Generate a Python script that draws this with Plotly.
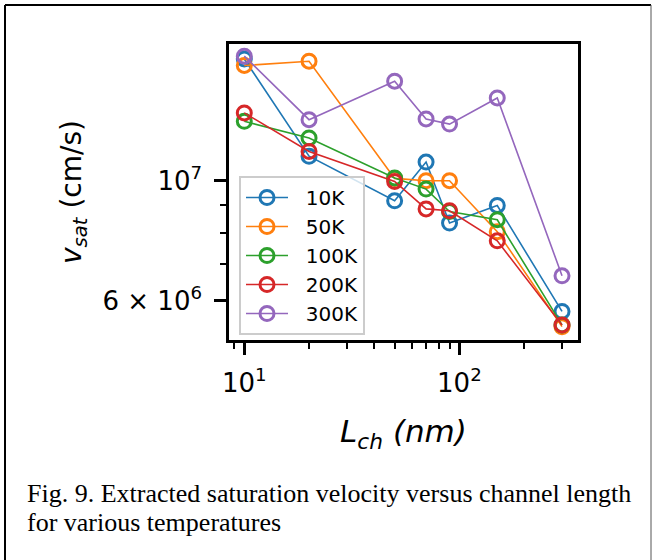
import math
import plotly.graph_objects as go

# ---- data ----
L_ch = [10, 20, 50, 70, 90, 150, 300]
v_10K = [1.68e7, 1.11e7, 9.18e6, 1.083e7, 8.35e6, 9.0e6, 5.73e6]
v_50K = [1.634e7, 1.664e7, 1.01e7, 1.0e7, 1.0e7, 8.05e6, 5.37e6]
v_100K = [1.288e7, 1.20e7, 1.012e7, 9.65e6, 8.77e6, 8.47e6, 5.41e6]
v_200K = [1.335e7, 1.133e7, 9.97e6, 8.87e6, 8.8e6, 7.74e6, 5.41e6]
v_300K = [1.70e7, 1.297e7, 1.528e7, 1.301e7, 1.273e7, 1.423e7, 6.67e6]
series_names = ["10K", "50K", "100K", "200K", "300K"]
series_values = [v_10K, v_50K, v_100K, v_200K, v_300K]
colors = ["#1f77b4", "#ff7f0e", "#2ca02c", "#d62728", "#9467bd"]

x_major = [10, 100]
x_major_text = ["10<sup>1</sup>", "10<sup>2</sup>"]
x_minor = [9, 20, 30, 40, 50, 60, 70, 80, 90, 200, 300]
y_major = [6e6, 1e7]
y_major_text = ["6 × 10<sup>6</sup>", "10<sup>7</sup>"]
y_minor = [7e6, 8e6, 9e6]

caption_1 = "Fig. 9. Extracted saturation velocity versus channel length"
caption_2 = "for various temperatures"

# ---- layout geometry ----
W, H = 656, 560
ml, mr, mt, mb = 229, 78, 44, 220
pw, ph = W - ml - mr, H - mt - mb


def px_x(px):
    return (px - ml) / pw


def px_y(py):
    return (H - mb - py) / ph


fig = go.Figure()
for name, vals, c in zip(series_names, series_values, colors):
    fig.add_trace(go.Scatter(
        x=L_ch, y=vals, name="\u00a0\u00a0" + name, mode="lines+markers",
        line=dict(color=c, width=1.6),
        marker=dict(symbol="circle-open", size=14, color=c, line=dict(width=3, color=c)),
    ))

tickfont = dict(family="DejaVu Sans", size=26, color="black")

fig.update_layout(
    width=W, height=H,
    margin=dict(l=ml, r=mr, t=mt, b=mb),
    paper_bgcolor="white", plot_bgcolor="white",
    showlegend=True,
    legend=dict(
        x=px_x(239), y=px_y(176), xanchor="left", yanchor="top",
        bgcolor="rgba(255,255,255,0.8)", bordercolor="#cccccc", borderwidth=2,
        font=dict(family="DejaVu Sans", size=20, color="black"),
        itemwidth=42,
    ),
    xaxis=dict(
        type="log", range=[math.log10(8.49), math.log10(356)],
        showgrid=False, zeroline=False,
        showline=True, linecolor="black", linewidth=2.5, mirror=True,
        ticks="outside", ticklen=12, tickwidth=2.5, tickcolor="black",
        tickmode="array", tickvals=x_major, ticktext=x_major_text,
        tickfont=tickfont, ticklabelstandoff=6,
        minor=dict(tickmode="array", tickvals=x_minor, ticks="outside",
                   ticklen=6, tickwidth=2, tickcolor="black", showgrid=False),
        title=dict(text="<i>L</i><sub><i>ch</i></sub> <i>(nm)</i>",
                   font=dict(family="DejaVu Sans", size=31, color="black"), standoff=24),
    ),
    yaxis=dict(
        type="log", range=[6.7053, 7.2530],
        showgrid=False, zeroline=False,
        showline=True, linecolor="black", linewidth=2.5, mirror=True,
        ticks="outside", ticklen=12, tickwidth=2.5, tickcolor="black",
        tickmode="array", tickvals=y_major, ticktext=y_major_text,
        tickfont=tickfont, ticklabelstandoff=7,
        minor=dict(tickmode="array", tickvals=y_minor, ticks="outside",
                   ticklen=6, tickwidth=2, tickcolor="black", showgrid=False),
        title=dict(text="<i>v</i><sub><i>sat</i></sub> (cm/s)",
                   font=dict(family="DejaVu Sans", size=28, color="black"), standoff=13),
    ),
)

# outer frame of the figure panel
fig.add_shape(type="line", xref="paper", yref="paper",
              x0=px_x(5), x1=px_x(5), y0=px_y(5), y1=px_y(560),
              line=dict(color="black", width=2))
fig.add_shape(type="line", xref="paper", yref="paper",
              x0=px_x(5), x1=px_x(651), y0=px_y(5), y1=px_y(5),
              line=dict(color="black", width=2))
fig.add_shape(type="line", xref="paper", yref="paper",
              x0=px_x(651), x1=px_x(651), y0=px_y(5), y1=px_y(560),
              line=dict(color="#555555", width=1))

capfont = dict(family="Liberation Serif", size=26, color="black")
fig.add_annotation(text=caption_1, xref="paper", yref="paper",
                   x=px_x(26), y=px_y(509), xanchor="left", yanchor="bottom",
                   showarrow=False, font=capfont, borderpad=0)
fig.add_annotation(text=caption_2, xref="paper", yref="paper",
                   x=px_x(26), y=px_y(538), xanchor="left", yanchor="bottom",
                   showarrow=False, font=capfont, borderpad=0)

fig.write_html("out.html")
